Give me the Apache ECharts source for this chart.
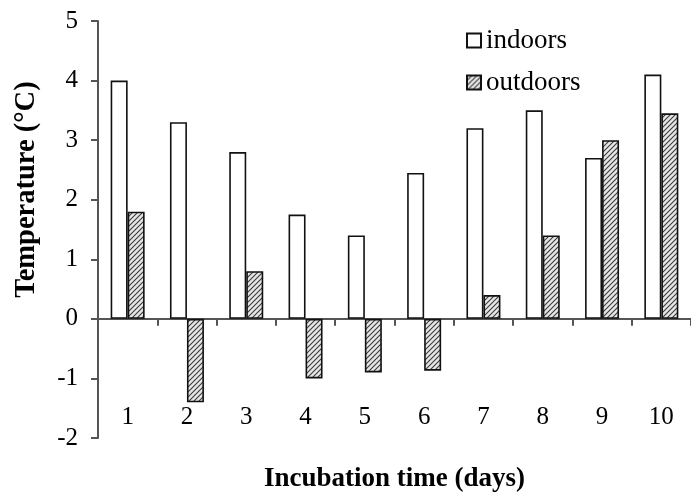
<!DOCTYPE html>
<html><head><meta charset="utf-8">
<script src="https://cdn.jsdelivr.net/npm/echarts@6/dist/echarts.min.js"></script>
<style>html,body{margin:0;padding:0;background:#fff}#c{width:691px;height:495px}</style>
</head><body><div id="c"></div>
<script>
const categories = ['1','2','3','4','5','6','7','8','9','10'];
const indoors = [4.0, 3.3, 2.8, 1.75, 1.4, 2.45, 3.2, 3.5, 2.7, 4.1];
const outdoors = [1.8, -1.4, 0.8, -1.0, -0.9, -0.87, 0.4, 1.4, 3.0, 3.45];

function hatch() {
  const s = 5;
  const c = document.createElement('canvas');
  c.width = s; c.height = s;
  const g = c.getContext('2d');
  g.fillStyle = '#e6e6e6'; g.fillRect(0,0,s,s);
  g.strokeStyle = '#3a3a3a'; g.lineWidth = 1.1;
  g.beginPath();
  g.moveTo(-1, s+1); g.lineTo(s+1, -1);
  g.moveTo(-1, 1); g.lineTo(1, -1);
  g.moveTo(s-1, s+1); g.lineTo(s+1, s-1);
  g.stroke();
  return c;
}
const serif = '"Liberation Serif", "DejaVu Serif", serif';
const chart = echarts.init(document.getElementById('c'), null, {renderer:'canvas'});
chart.setOption({
  animation: false,
  grid: {left: 98, right: 0, top: 21, bottom: 57, outerBoundsMode: 'none', containLabel: false},
  legend: {
    orient: 'vertical', left: 466, top: 27, padding: 0, itemWidth: 14, itemHeight: 14, itemGap: 15,
    icon: 'rect',
    textStyle: {fontFamily: serif, fontSize: 27, color: '#000'},
    data: ['indoors', 'outdoors']
  },
  xAxis: {
    type: 'category', data: categories,
    name: 'Incubation time (days)', nameLocation: 'middle', nameGap: 28,
    nameTextStyle: {fontFamily: serif, fontSize: 27, fontWeight: 'bold', color: '#000'},
    axisLine: {onZero: true, lineStyle: {color: '#555', width: 2}},
    axisTick: {show: true, length: 7, lineStyle: {color: '#555', width: 2}},
    axisLabel: {margin: -33, fontFamily: serif, fontSize: 25, color: '#000'}
  },
  yAxis: {
    type: 'value', min: -2, max: 5, interval: 1,
    name: 'Temperature (\u00B0C)', nameLocation: 'middle', nameGap: 57,
    nameTextStyle: {fontFamily: serif, fontSize: 28.5, fontWeight: 'bold', color: '#000', padding: [0, 0, 0, 80]},
    axisLine: {show: true, lineStyle: {color: '#555', width: 2}},
    axisTick: {show: true, length: 7, lineStyle: {color: '#555', width: 2}},
    axisLabel: {margin: 20, fontFamily: serif, fontSize: 25, color: '#000'},
    splitLine: {show: false}
  },
  series: [
    {name: 'indoors', type: 'bar', data: indoors, barWidth: 17, barGap: '0%',
     itemStyle: {color: '#fff', borderColor: '#111', borderWidth: 1.6}},
    {name: 'outdoors', type: 'bar', data: outdoors, barWidth: 17,
     itemStyle: {color: {image: hatch(), repeat: 'repeat'}, borderColor: '#111', borderWidth: 1.6}}
  ]
});
</script></body></html>
